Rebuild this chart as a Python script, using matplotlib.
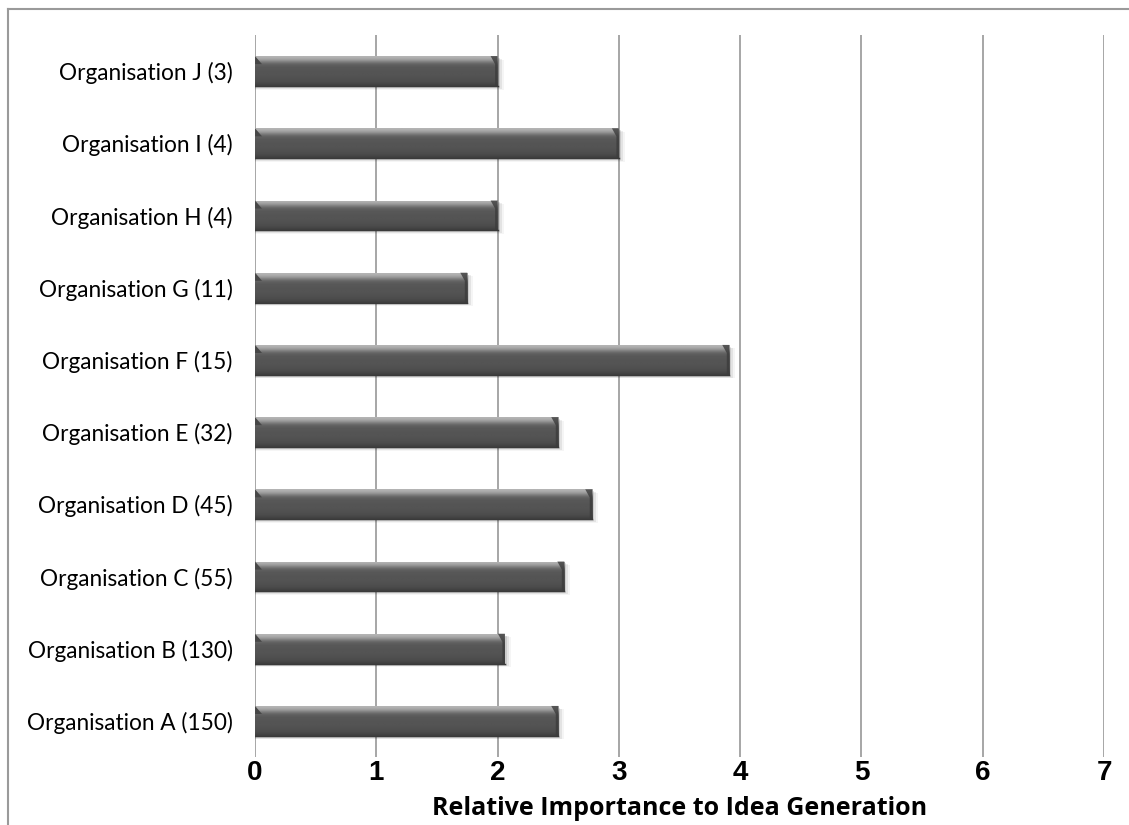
import numpy as np
import matplotlib.pyplot as plt
from matplotlib.patches import Polygon
from matplotlib.lines import Line2D

# organisations (sample size in brackets), bottom to top
organisations = ["Organisation A (150)", "Organisation B (130)", "Organisation C (55)",
                 "Organisation D (45)", "Organisation E (32)", "Organisation F (15)",
                 "Organisation G (11)", "Organisation H (4)", "Organisation I (4)",
                 "Organisation J (3)"]
importance = [2.5, 2.06, 2.55, 2.78, 2.5, 3.91, 1.75, 2.0, 3.0, 2.0]
xticks = [0, 1, 2, 3, 4, 5, 6, 7]

fig = plt.figure(figsize=(11.29, 8.25), dpi=100)
ax = fig.add_axes([0.2259, 0.0824, 0.752, 0.8752])

bar_h = 0.415
y = np.arange(len(organisations))

# vertical shading of the bevelled bars, top row first
shade = np.array([0.70, 0.66, 0.58, 0.48, 0.40, 0.36, 0.345, 0.34, 0.335, 0.33,
                  0.33, 0.325, 0.32, 0.31, 0.30, 0.28, 0.25])
grad = np.tile(shade.reshape(-1, 1), (1, 2))

px = 7.0 / 849  # one pixel in data units along x
for yi, v in zip(y, importance):
    top = yi + bar_h / 2
    bot = yi - bar_h / 2
    # soft drop shadow
    for k, a in enumerate([0.10, 0.07, 0.04]):
        ax.barh(yi - 0.025 - 0.012 * k, v + px * (2 + 2 * k), height=bar_h,
                color="#000000", alpha=a, zorder=2, linewidth=0)
    bar = ax.barh(yi, v, height=bar_h, color="#555555", zorder=3,
                  linewidth=0)[0]
    im = ax.imshow(grad, cmap="gray", vmin=0, vmax=1, aspect="auto",
                   extent=[0, v, bot, top], zorder=3.5,
                   interpolation="bilinear")
    im.set_clip_path(bar)
    # bevelled ends
    s = bar_h * 0.27
    dx = 7 * px
    ax.add_patch(Polygon([[0, top], [dx, top - s], [0, top - s]],
                         closed=True, color="#474747", zorder=4, lw=0))
    ax.add_patch(Polygon([[v, top], [v, bot], [v - 2.5 * px, bot],
                          [v - 2.5 * px, top - s], [v - dx, top]],
                         closed=True, color="#3c3c3c", alpha=0.8, zorder=4, lw=0))
    ax.plot([0, v], [bot, bot], color="#3a3a3a", lw=1.0, zorder=4)

ax.set_xlim(0, 7)
ax.set_ylim(-0.5, len(organisations) - 0.5)
ax.set_xticks(xticks)
ax.set_xticklabels([str(t) for t in xticks], fontsize=20, fontweight="bold",
                   family="Liberation Sans")
ax.set_yticks(y)
ax.set_yticklabels(organisations, fontsize=16.3, family="Lato")
ax.tick_params(axis="both", length=0)
ax.tick_params(axis="x", pad=2)
ax.tick_params(axis="y", pad=16)

ax.grid(axis="x", color="#a6a6a6", lw=1.4, zorder=0)
ax.set_axisbelow(True)
for sp in ax.spines.values():
    sp.set_visible(False)

ax.set_xlabel("Relative Importance to Idea Generation", fontsize=18,
              fontweight="bold", family="Open Sans", labelpad=7)

# chart frame
fig.add_artist(Line2D([8 / 1129, 1.0], [1 - 9 / 825, 1 - 9 / 825],
                      color="#9a9a9a", lw=1.5))
fig.add_artist(Line2D([8 / 1129, 8 / 1129], [0, 1 - 9 / 825],
                      color="#9a9a9a", lw=1.5))

fig.savefig("out.png", dpi=100)
